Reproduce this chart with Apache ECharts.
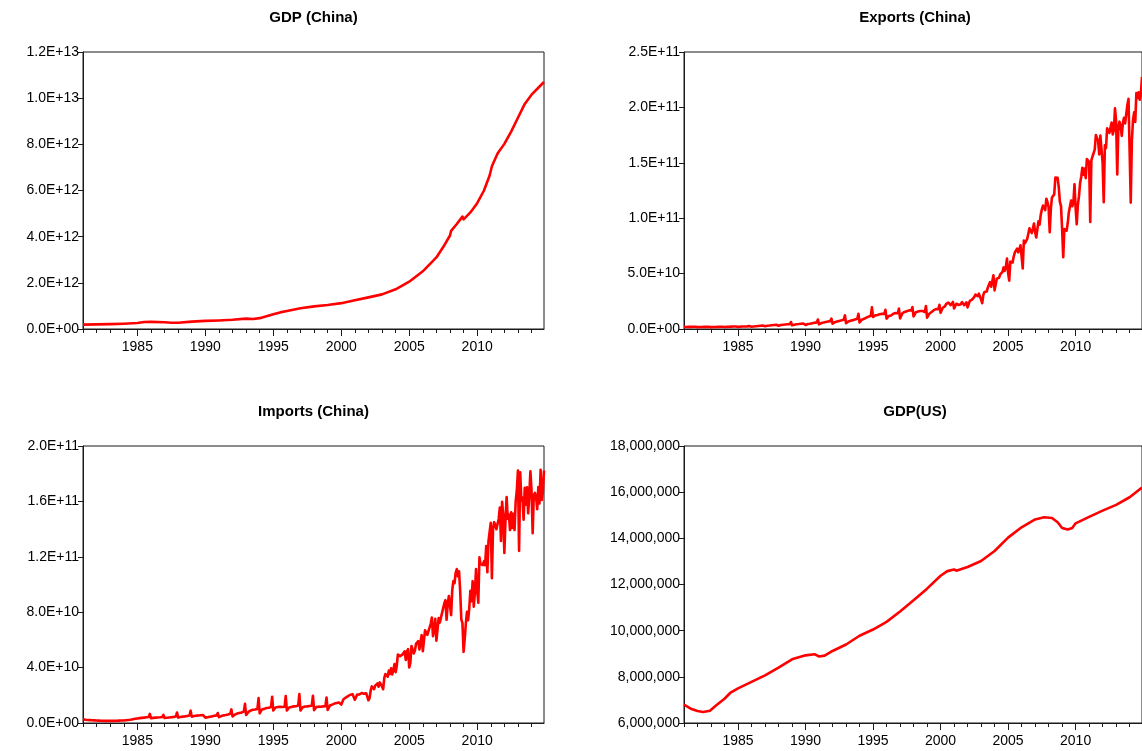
<!DOCTYPE html>
<html>
<head>
<meta charset="utf-8">
<title>China and US macro series</title>
<script src="https://cdn.jsdelivr.net/npm/echarts@6/dist/echarts.min.js"></script>
<style>
  html, body { margin: 0; padding: 0; background: #ffffff; }
  #chart { width: 1142px; height: 751px; }
</style>
</head>
<body>
<div id="chart"></div>
<script>
// Sample runs monthly from 1981M01 to 2014M12
const START_YEAR = 1981;
const END_YEAR = 2014 + 11 / 12;
const yearTicks = [1981, 1982, 1983, 1984, 1985, 1986, 1987, 1988, 1989, 1990,
  1991, 1992, 1993, 1994, 1995, 1996, 1997, 1998, 1999, 2000, 2001, 2002, 2003,
  2004, 2005, 2006, 2007, 2008, 2009, 2010, 2011, 2012, 2013, 2014];
const labelYears = [1985, 1990, 1995, 2000, 2005, 2010];

// China GDP (trillions of USD)
const gdpChinaDates = ['1981-01', '1982-01', '1983-01', '1984-01', '1985-01', '1985-07',
  '1986-01', '1987-01', '1987-07', '1988-01', '1989-01', '1990-01', '1991-01', '1992-01',
  '1993-01', '1993-07', '1994-01', '1995-01', '1995-07', '1996-01', '1997-01', '1998-01',
  '1999-01', '2000-01', '2001-01', '2002-01', '2003-01', '2004-01', '2005-01', '2006-01',
  '2006-07', '2007-01', '2007-07', '2008-01', '2008-02', '2008-07', '2008-12', '2009-01',
  '2009-07', '2010-01', '2010-07', '2010-12', '2011-02', '2011-07', '2012-01', '2012-07',
  '2013-01', '2013-07', '2014-01', '2014-07', '2014-12'];
const gdpChinaValues = [0.19, 0.20, 0.21, 0.23, 0.26, 0.30,
  0.31, 0.29, 0.27, 0.27, 0.32, 0.35, 0.37, 0.40,
  0.45, 0.43, 0.47, 0.64, 0.72, 0.78, 0.90, 0.98,
  1.04, 1.12, 1.25, 1.37, 1.50, 1.72, 2.05, 2.50,
  2.80, 3.10, 3.55, 4.05, 4.25, 4.55, 4.87, 4.75,
  5.05, 5.45, 6.00, 6.65, 7.05, 7.60, 8.02, 8.55,
  9.15, 9.75, 10.15, 10.45, 10.70];

// China monthly exports (billions of USD), one row per year
const exportsChina = [
  1.8, 1.6, 1.8, 1.8, 1.9, 1.9, 1.9, 1.9, 2.0, 1.9, 2.0, 2.3,
  1.7, 1.5, 1.8, 1.8, 1.8, 1.9, 1.9, 1.9, 1.9, 1.9, 2.0, 2.3,
  1.7, 1.5, 1.8, 1.8, 1.8, 1.9, 1.9, 1.9, 2.0, 1.9, 2.0, 2.4,
  1.8, 1.6, 1.9, 2.0, 2.0, 2.1, 2.1, 2.1, 2.2, 2.1, 2.2, 2.7,
  1.9, 1.7, 2.1, 2.1, 2.2, 2.3, 2.3, 2.3, 2.4, 2.4, 2.6, 3.6,
  2.0, 1.8, 2.3, 2.4, 2.5, 2.6, 2.7, 2.8, 2.9, 2.9, 3.1, 4.4,
  2.5, 2.2, 2.9, 3.0, 3.1, 3.3, 3.4, 3.5, 3.6, 3.6, 3.8, 5.6,
  3.0, 2.7, 3.6, 3.8, 3.9, 4.1, 4.1, 4.2, 4.3, 4.2, 4.4, 6.3,
  3.4, 3.0, 3.9, 4.1, 4.3, 4.5, 4.5, 4.6, 4.8, 4.7, 5.0, 6.7,
  3.6, 3.4, 4.5, 4.6, 4.8, 5.1, 5.2, 5.4, 5.6, 5.6, 6.0, 8.6,
  4.2, 4.0, 5.4, 5.6, 5.8, 6.1, 6.3, 6.5, 6.7, 6.6, 7.1, 9.4,
  4.8, 4.6, 6.2, 6.5, 6.8, 7.1, 7.3, 7.5, 7.8, 7.8, 8.4, 12.4,
  5.2, 5.0, 6.8, 7.2, 7.5, 7.8, 8.0, 8.2, 8.6, 8.4, 9.2, 13.8,
  5.9, 5.6, 8.4, 8.7, 9.2, 9.8, 10.2, 10.6, 11.2, 11.0, 12.0, 19.5,
  10.8, 9.0, 12.3, 12.2, 12.6, 13.3, 13.4, 13.5, 13.8, 12.4, 13.6, 17.4,
  9.3, 8.6, 11.8, 12.0, 12.2, 12.9, 13.7, 13.5, 14.4, 13.0, 14.2, 18.4,
  9.6, 9.4, 14.1, 15.0, 15.4, 15.6, 16.1, 16.3, 16.8, 15.9, 16.7, 19.8,
  11.3, 10.2, 15.1, 15.5, 15.8, 16.4, 16.3, 16.0, 16.2, 14.9, 15.3, 20.8,
  10.2, 9.7, 13.8, 15.4, 15.4, 16.5, 17.0, 17.2, 18.0, 16.9, 17.8, 21.9,
  14.6, 14.4, 19.2, 20.0, 20.6, 22.6, 22.3, 23.8, 24.0, 21.6, 21.8, 24.4,
  18.5, 17.0, 22.8, 22.5, 21.7, 23.4, 22.4, 24.3, 24.6, 21.5, 22.5, 24.0,
  19.5, 18.2, 25.4, 26.4, 26.5, 27.6, 29.0, 31.1, 32.4, 29.6, 31.9, 32.6,
  26.7, 23.3, 30.8, 33.4, 33.4, 33.8, 37.5, 36.3, 42.3, 38.1, 39.7, 48.4,
  34.9, 36.0, 45.5, 47.2, 46.3, 49.3, 49.7, 51.5, 55.6, 52.5, 56.0, 63.5,
  50.8, 43.6, 60.8, 62.1, 60.0, 65.4, 69.1, 69.0, 72.6, 69.2, 71.9, 75.6,
  65.7, 54.6, 79.9, 77.4, 76.7, 81.4, 80.3, 90.8, 91.7, 86.6, 90.2, 95.2,
  87.6, 82.6, 83.3, 97.3, 94.2, 103.0, 107.9, 111.4, 112.1, 107.3, 117.6, 114.4,
  109.7, 87.4, 108.9, 118.7, 120.4, 121.5, 136.7, 134.9, 136.4, 128.3, 114.9, 111.2,
  90.5, 64.9, 90.3, 91.9, 88.8, 95.4, 105.4, 103.7, 115.9, 110.8, 113.7, 130.7,
  109.5, 94.5, 112.1, 119.9, 131.8, 137.4, 145.5, 139.3, 144.9, 136.1, 153.4, 154.2,
  150.7, 96.7, 152.2, 155.7, 157.2, 161.9, 175.1, 173.3, 169.7, 157.5, 174.5, 174.7,
  149.9, 114.4, 165.7, 163.3, 181.1, 180.2, 176.9, 178.0, 186.4, 175.6, 179.4, 199.2,
  187.4, 139.4, 182.2, 187.1, 182.8, 174.3, 185.9, 190.7, 185.6, 185.4, 202.2, 207.7,
  207.1, 114.1, 170.1, 188.5, 195.5, 186.8, 212.9, 208.5, 213.7, 206.9, 211.7, 227.5
];

// China monthly imports (billions of USD), one row per year
const importsChina = [
  2.9, 2.6, 2.4, 2.3, 2.2, 2.1, 2.1, 2.0, 2.0, 1.9, 1.9, 2.0,
  1.8, 1.7, 1.7, 1.6, 1.6, 1.6, 1.5, 1.5, 1.5, 1.5, 1.5, 1.6,
  1.5, 1.4, 1.5, 1.5, 1.5, 1.6, 1.6, 1.6, 1.7, 1.7, 1.8, 2.0,
  1.8, 1.7, 2.0, 2.1, 2.2, 2.3, 2.4, 2.5, 2.7, 2.8, 3.0, 3.5,
  3.3, 3.2, 3.5, 3.6, 3.7, 3.8, 3.9, 4.0, 4.1, 4.1, 4.3, 6.6,
  3.5, 3.3, 3.7, 3.8, 3.9, 4.0, 4.0, 4.1, 4.1, 4.2, 4.4, 5.9,
  3.6, 3.4, 3.8, 3.9, 4.0, 4.1, 4.2, 4.3, 4.4, 4.5, 4.7, 7.6,
  3.9, 3.7, 4.3, 4.5, 4.6, 4.7, 4.8, 5.0, 5.1, 5.2, 5.4, 8.9,
  4.6, 4.3, 5.0, 5.2, 5.3, 5.4, 5.4, 5.5, 5.6, 5.6, 5.7, 6.4,
  3.9, 3.6, 4.2, 4.3, 4.5, 4.7, 4.8, 5.0, 5.2, 5.3, 5.5, 7.2,
  4.2, 4.0, 5.0, 5.3, 5.5, 5.7, 5.8, 6.0, 6.2, 6.4, 6.7, 9.8,
  4.8, 4.6, 6.0, 6.5, 6.8, 7.0, 7.2, 7.4, 7.6, 7.8, 8.2, 13.8,
  5.8, 5.4, 8.0, 8.6, 9.0, 9.3, 9.5, 9.6, 9.8, 9.7, 10.2, 18.0,
  7.0, 6.8, 9.8, 9.9, 10.2, 10.5, 10.8, 10.8, 11.0, 11.1, 11.6, 19.0,
  9.0, 8.5, 11.2, 11.3, 11.5, 11.6, 11.8, 11.6, 11.5, 11.2, 11.8, 19.5,
  9.0, 8.8, 11.2, 11.5, 11.6, 11.8, 12.0, 12.0, 12.1, 12.2, 12.6, 20.9,
  9.0, 8.7, 11.4, 11.6, 11.9, 12.0, 12.0, 11.8, 12.3, 12.2, 12.5, 19.7,
  9.3, 8.9, 11.5, 11.8, 11.8, 12.0, 11.7, 11.7, 12.0, 11.8, 12.2, 18.4,
  9.4, 9.1, 12.6, 13.0, 13.3, 13.6, 14.0, 14.2, 14.4, 14.2, 14.8, 16.2,
  13.3, 13.6, 17.2, 17.8, 18.4, 18.6, 19.4, 19.9, 20.4, 19.3, 20.8, 22.0,
  16.8, 17.5, 20.5, 21.3, 20.6, 20.8, 21.6, 21.5, 21.1, 20.1, 21.5, 22.7,
  16.4, 18.0, 23.5, 26.4, 26.0, 24.4, 27.0, 27.7, 28.6, 26.2, 29.3, 30.6,
  26.4, 24.4, 32.6, 35.4, 34.3, 33.4, 37.8, 35.3, 39.5, 35.0, 38.3, 42.5,
  36.7, 41.2, 49.5, 48.2, 48.3, 48.6, 49.5, 49.7, 51.8, 45.5, 51.6, 53.3,
  40.1, 43.4, 55.6, 55.6, 50.2, 52.1, 57.1, 56.5, 59.1, 53.1, 58.5, 63.5,
  51.8, 51.3, 67.0, 66.6, 63.6, 66.4, 66.4, 71.6, 76.1, 62.7, 67.7, 75.2,
  59.4, 58.7, 75.7, 72.5, 73.6, 79.5, 80.7, 86.5, 88.7, 74.5, 86.0, 91.7,
  90.4, 77.9, 96.2, 102.4, 100.9, 108.3, 111.2, 105.9, 109.6, 95.2, 74.9, 72.1,
  51.3, 60.5, 71.7, 80.3, 74.2, 82.7, 95.4, 87.9, 102.4, 84.0, 94.7, 111.2,
  95.7, 86.9, 119.6, 114.7, 114.9, 114.0, 116.8, 114.0, 127.7, 108.9, 131.5, 131.1,
  144.5, 104.5, 140.3, 145.0, 144.1, 139.9, 143.8, 147.3, 155.5, 131.5, 159.8, 150.2,
  122.8, 146.3, 163.1, 147.5, 150.5, 139.3, 152.2, 140.8, 151.0, 139.3, 160.0, 167.9,
  182.3, 124.3, 181.0, 160.6, 162.8, 146.8, 169.9, 157.6, 170.2, 151.4, 164.3, 181.8,
  167.8, 137.1, 164.6, 166.1, 163.2, 154.4, 170.3, 158.6, 182.8, 161.0, 167.0, 182.3
];

// US real GDP (annualised level)
const gdpUSDates = ['1981-01', '1981-07', '1982-01', '1982-06', '1982-12', '1983-06',
  '1984-01', '1984-06', '1985-01', '1986-01', '1987-01', '1988-01', '1989-01', '1990-01',
  '1990-09', '1991-01', '1991-06', '1992-01', '1993-01', '1994-01', '1995-01', '1996-01',
  '1997-01', '1998-01', '1999-01', '2000-01', '2000-07', '2001-01', '2001-03', '2002-01',
  '2003-01', '2004-01', '2005-01', '2006-01', '2007-01', '2007-09', '2008-04', '2008-09',
  '2009-01', '2009-06', '2009-10', '2010-01', '2011-01', '2012-01', '2013-01', '2014-01',
  '2014-12'];
const gdpUSValues = [6800000, 6620000, 6520000, 6480000, 6530000, 6780000,
  7050000, 7300000, 7500000, 7780000, 8060000, 8400000, 8760000, 8930000,
  8980000, 8880000, 8920000, 9120000, 9400000, 9780000, 10050000, 10380000,
  10830000, 11320000, 11820000, 12380000, 12580000, 12650000, 12600000, 12760000,
  13020000, 13450000, 14030000, 14480000, 14820000, 14910000, 14880000, 14700000,
  14450000, 14380000, 14450000, 14650000, 14930000, 15200000, 15450000, 15780000,
  16200000];

const BILLION = 1e9;
const TRILLION = 1e12;

function toYear(d) {
  const [y, m] = d.split('-').map(Number);
  return y + (m - 1) / 12;
}
function monthly(values, unit) {
  return values.map((v, i) => [START_YEAR + i / 12, v * unit]);
}
function dated(dates, values, unit) {
  return dates.map((d, i) => [toYear(d), values[i] * unit]);
}

function sciLabel(v) {
  if (v === 0) return '0.0E+00';
  const exp = Math.floor(Math.log10(Math.abs(v)) + 1e-9);
  const mant = v / Math.pow(10, exp);
  return mant.toFixed(1) + 'E+' + String(exp).padStart(2, '0');
}
function commaLabel(v) {
  return Math.round(v).toLocaleString('en-US');
}

const INK = '#1a1a1a';
const FONT = 'Liberation Sans, Arial, sans-serif';
const LINE_RED = '#ff0000';

const panels = [
  { title: 'GDP (China)', left: 83, top: 52, width: 461, height: 277,
    min: 0, max: 1.2e13, interval: 2e12, fmt: sciLabel,
    data: dated(gdpChinaDates, gdpChinaValues, TRILLION) },
  { title: 'Exports (China)', left: 684, top: 52, width: 462, height: 277,
    min: 0, max: 2.5e11, interval: 5e10, fmt: sciLabel,
    data: monthly(exportsChina, BILLION) },
  { title: 'Imports (China)', left: 83, top: 446, width: 461, height: 277,
    min: 0, max: 2e11, interval: 4e10, fmt: sciLabel,
    data: monthly(importsChina, BILLION) },
  { title: 'GDP(US)', left: 684, top: 446, width: 462, height: 277,
    min: 6e6, max: 1.8e7, interval: 2e6, fmt: commaLabel,
    data: dated(gdpUSDates, gdpUSValues, 1) }
];

const option = {
  animation: false,
  backgroundColor: '#ffffff',
  title: [], grid: [], xAxis: [], yAxis: [], series: []
};

panels.forEach((p, i) => {
  option.title.push({
    text: p.title,
    left: p.left + p.width / 2,
    top: p.top - 42,
    textAlign: 'center',
    padding: 0,
    textStyle: { fontFamily: FONT, fontSize: 15, fontWeight: 'bold', color: '#000' }
  });
  option.grid.push({
    left: p.left, top: p.top, width: p.width, height: p.height,
    show: true, borderColor: INK, borderWidth: 1, backgroundColor: 'transparent'
  });
  // yearly minor ticks with the five-year labels
  option.xAxis.push({
    type: 'value', gridIndex: i, min: START_YEAR, max: END_YEAR,
    position: 'bottom', offset: 0,
    splitLine: { show: false },
    axisLine: { show: true, onZero: false, lineStyle: { color: INK, width: 1 } },
    axisTick: { show: true, length: 4, inside: false, customValues: yearTicks,
      lineStyle: { color: INK, width: 1 } },
    axisLabel: { show: true, customValues: labelYears, margin: 11,
      fontFamily: FONT, fontSize: 14, color: '#000', formatter: v => String(v) }
  });
  // longer ticks at the labelled years
  option.xAxis.push({
    type: 'value', gridIndex: i, min: START_YEAR, max: END_YEAR,
    position: 'bottom', offset: 0,
    splitLine: { show: false },
    axisLine: { show: false, onZero: false },
    axisTick: { show: true, length: 7, inside: false, customValues: labelYears,
      lineStyle: { color: INK, width: 1 } },
    axisLabel: { show: false }
  });
  option.yAxis.push({
    type: 'value', gridIndex: i, min: p.min, max: p.max, interval: p.interval,
    splitLine: { show: false },
    axisLine: { show: true, onZero: false, lineStyle: { color: INK, width: 1 } },
    axisTick: { show: true, length: 5, inside: false, lineStyle: { color: INK, width: 1 } },
    axisLabel: { margin: 4, fontFamily: FONT, fontSize: 14, color: '#000', formatter: p.fmt }
  });
  option.series.push({
    type: 'line', xAxisIndex: i * 2, yAxisIndex: i,
    data: p.data, showSymbol: false, symbol: 'none', clip: true,
    lineStyle: { color: LINE_RED, width: 2.6, join: 'round' },
    emphasis: { disabled: true }
  });
});

const chart = echarts.init(document.getElementById('chart'), null, { renderer: 'canvas' });
chart.setOption(option);
</script>
</body>
</html>
